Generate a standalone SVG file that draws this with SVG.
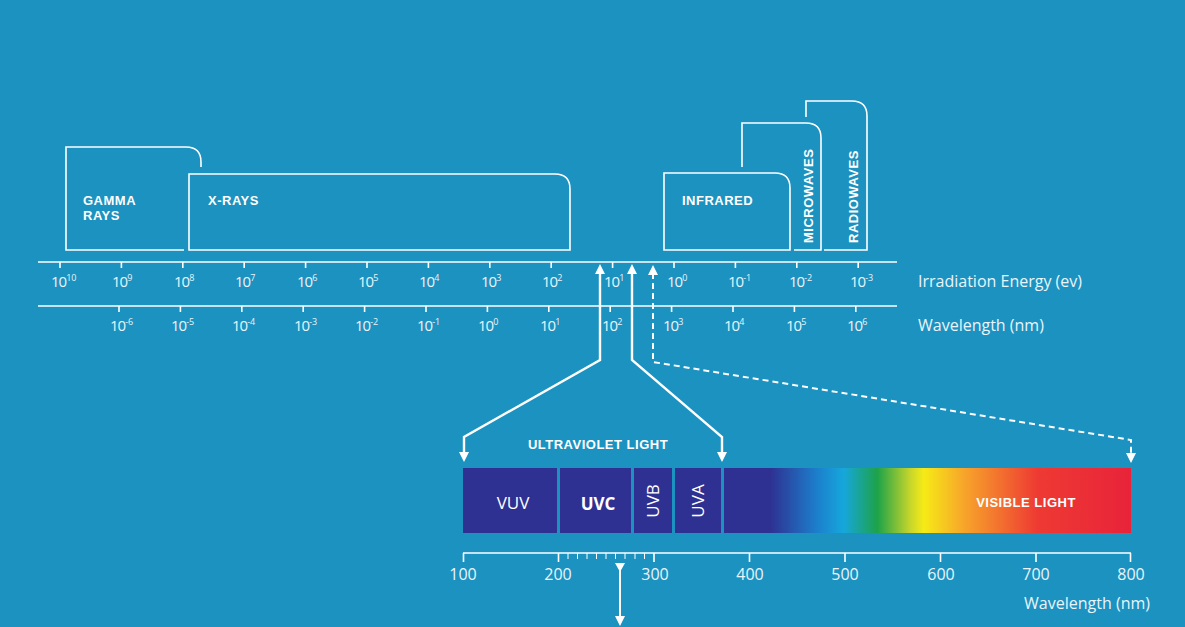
<svg xmlns="http://www.w3.org/2000/svg" width="1185" height="627" viewBox="0 0 1185 627">
<style>
.ln{stroke:#fff;stroke-width:1.6;fill:none}
.bx{stroke:#fff;stroke-width:1.6;fill:none}
.lb{font-family:"Liberation Sans",Arial,sans-serif;font-weight:bold;fill:#fff;font-size:13px;letter-spacing:0.5px}
.tk{font-family:"Open Sans","Liberation Sans",sans-serif;fill:#eaf4fa;font-size:15px;letter-spacing:-1px}
.sp{font-size:9px;letter-spacing:0}
.ax{font-family:"Open Sans","Liberation Sans",sans-serif;fill:#eaf4fa;font-size:16px}
.uv{font-family:"Open Sans","Liberation Sans",sans-serif;fill:#fff;font-size:17px}
.hd{fill:#fff}
</style>
<defs>
<linearGradient id="vis" x1="463" x2="1131" y1="0" y2="0" gradientUnits="userSpaceOnUse">
<stop offset="0.46" stop-color="#2e3192"/>
<stop offset="0.53" stop-color="#1c7fcc"/>
<stop offset="0.57" stop-color="#16a7dc"/>
<stop offset="0.62" stop-color="#1da24a"/>
<stop offset="0.67" stop-color="#c8d62b"/>
<stop offset="0.69" stop-color="#f6eb16"/>
<stop offset="0.75" stop-color="#f7a52a"/>
<stop offset="0.86" stop-color="#ee3a33"/>
<stop offset="1" stop-color="#e8233a"/>
</linearGradient>
</defs>
<rect width="1185" height="627" fill="#1b92c0"/>
<g id="gamma"><path class="bx" d="M184,250 H66 V147 H186 Q201,147 201,162 V167"/><text class="lb" x="83" y="205">GAMMA</text><text class="lb" x="83" y="220">RAYS</text></g>
<g id="xrays"><path class="bx" d="M189,250 V174 H555 Q570,174 570,189 V250 Z"/><text class="lb" x="208" y="205">X-RAYS</text></g>
<g id="infrared"><path class="bx" d="M664,250 V173 H775 Q790,173 790,188 V250 Z"/><text class="lb" x="682" y="205">INFRARED</text></g>
<g id="microwaves"><path class="bx" d="M742,167 V123 H806 Q821,123 821,138 V250 H794"/><text class="lb" transform="translate(813,243) rotate(-90)">MICROWAVES</text></g>
<g id="radiowaves"><path class="bx" d="M806,117 V101 H852 Q867,101 867,116 V250 H824"/><text class="lb" transform="translate(858,243) rotate(-90)">RADIOWAVES</text></g>
<g id="scale-energy">
<line class="ln" x1="38" y1="262" x2="897" y2="262"/>
<path class="ln" d="M60,262v6M121.4,262v6M182.8,262v6M244.2,262v6M305.6,262v6M367,262v6M428.4,262v6M489.8,262v6M551.2,262v6M612.6,262v6M674,262v6M735.4,262v6M796.8,262v6M858.2,262v6"/>
<text class="tk" y="287"><tspan x="51">10<tspan class="sp" dy="-6">10</tspan></tspan><tspan x="112" dy="6">10<tspan class="sp" dy="-6">9</tspan></tspan><tspan x="174" dy="6">10<tspan class="sp" dy="-6">8</tspan></tspan><tspan x="235" dy="6">10<tspan class="sp" dy="-6">7</tspan></tspan><tspan x="297" dy="6">10<tspan class="sp" dy="-6">6</tspan></tspan><tspan x="358" dy="6">10<tspan class="sp" dy="-6">5</tspan></tspan><tspan x="419" dy="6">10<tspan class="sp" dy="-6">4</tspan></tspan><tspan x="481" dy="6">10<tspan class="sp" dy="-6">3</tspan></tspan><tspan x="542" dy="6">10<tspan class="sp" dy="-6">2</tspan></tspan><tspan x="604" dy="6">10<tspan class="sp" dy="-6">1</tspan></tspan><tspan x="667" dy="6">10<tspan class="sp" dy="-6">0</tspan></tspan><tspan x="728" dy="6">10<tspan class="sp" dy="-6">-1</tspan></tspan><tspan x="789" dy="6">10<tspan class="sp" dy="-6">-2</tspan></tspan><tspan x="850" dy="6">10<tspan class="sp" dy="-6">-3</tspan></tspan></text>
<text class="ax" x="918" y="287">Irradiation Energy (ev)</text>
</g>
<g id="scale-wavelength">
<line class="ln" x1="38" y1="306" x2="897" y2="306"/>
<path class="ln" d="M119,306v6M180.4,306v6M241.8,306v6M303.2,306v6M364.6,306v6M426,306v6M487.4,306v6M548.8,306v6M610.2,306v6M671.6,306v6M733,306v6M794.4,306v6M855.8,306v6"/>
<text class="tk" y="331"><tspan x="110">10<tspan class="sp" dy="-6">-6</tspan></tspan><tspan x="171" dy="6">10<tspan class="sp" dy="-6">-5</tspan></tspan><tspan x="232" dy="6">10<tspan class="sp" dy="-6">-4</tspan></tspan><tspan x="294" dy="6">10<tspan class="sp" dy="-6">-3</tspan></tspan><tspan x="355" dy="6">10<tspan class="sp" dy="-6">-2</tspan></tspan><tspan x="417" dy="6">10<tspan class="sp" dy="-6">-1</tspan></tspan><tspan x="478" dy="6">10<tspan class="sp" dy="-6">0</tspan></tspan><tspan x="540" dy="6">10<tspan class="sp" dy="-6">1</tspan></tspan><tspan x="602" dy="6">10<tspan class="sp" dy="-6">2</tspan></tspan><tspan x="663" dy="6">10<tspan class="sp" dy="-6">3</tspan></tspan><tspan x="724" dy="6">10<tspan class="sp" dy="-6">4</tspan></tspan><tspan x="786" dy="6">10<tspan class="sp" dy="-6">5</tspan></tspan><tspan x="847" dy="6">10<tspan class="sp" dy="-6">6</tspan></tspan></text>
<text class="ax" x="918" y="331">Wavelength (nm)</text>
</g>
<g id="connectors">
<path d="M600,272 V360 L464,437 V454" stroke="#fff" stroke-width="2.4" fill="none"/>
<path d="M632,272 V360 L722,437 V454" stroke="#fff" stroke-width="2.4" fill="none"/>
<path d="M653,273 V362 L1131,440 V455" stroke="#fff" stroke-width="2" stroke-dasharray="6,4" fill="none"/>
<path class="hd" d="M595,274 L600,264 L605,274 Z M627,274 L632,264 L637,274 Z M648,275 L653,265 L658,275 Z"/>
<path class="hd" d="M459,452 L464,462 L469,452 Z M717,452 L722,462 L727,452 Z M1126,453 L1131,463 L1136,453 Z"/>
<path d="M620,570 V618" stroke="#fff" stroke-width="2" fill="none"/>
<path class="hd" d="M615,616 L620,626 L625,616 Z M615,563 H625 L620,572 Z"/>
</g>
<g id="spectrum">
<text class="lb" x="598" y="449" text-anchor="middle">ULTRAVIOLET LIGHT</text>
<rect x="724" y="468" width="407" height="65" fill="url(#vis)"/>
<rect x="463" y="468" width="94" height="65" fill="#2e3192"/>
<rect x="560" y="468" width="71" height="65" fill="#2e3192"/>
<rect x="634" y="468" width="38" height="65" fill="#2e3192"/>
<rect x="675" y="468" width="46" height="65" fill="#2e3192"/>
<text class="uv" x="513" y="509" text-anchor="middle">VUV</text>
<text class="uv" x="598" y="510" text-anchor="middle" font-weight="bold" font-size="19">UVC</text>
<text class="uv" transform="translate(659,501) rotate(-90)" text-anchor="middle">UVB</text>
<text class="uv" transform="translate(704,501) rotate(-90)" text-anchor="middle">UVA</text>
<text class="lb" x="1026" y="507" text-anchor="middle" font-size="14">VISIBLE LIGHT</text>
</g>
<g id="axis">
<line class="ln" x1="463" y1="553" x2="1131" y2="553"/>
<path class="ln" d="M463.5,553v9M558.5,553v9M654,553v9M749.5,553v9M845,553v9M940.5,553v9M1036,553v9M1130.5,553v9"/>
<path stroke="#fff" stroke-width="1" d="M568,553v6M577.5,553v6M587,553v6M596.5,553v6M606,553v6M615.5,553v6M625,553v6M635,553v6M644.5,553v6"/>
<g class="ax" font-size="17" text-anchor="middle"><text x="463" y="580">100</text><text x="558" y="580">200</text><text x="655" y="580">300</text><text x="750" y="580">400</text><text x="845" y="580">500</text><text x="941" y="580">600</text><text x="1036" y="580">700</text><text x="1131" y="580">800</text></g>
<text class="ax" x="1150" y="609" text-anchor="end">Wavelength (nm)</text>
</g>
</svg>
